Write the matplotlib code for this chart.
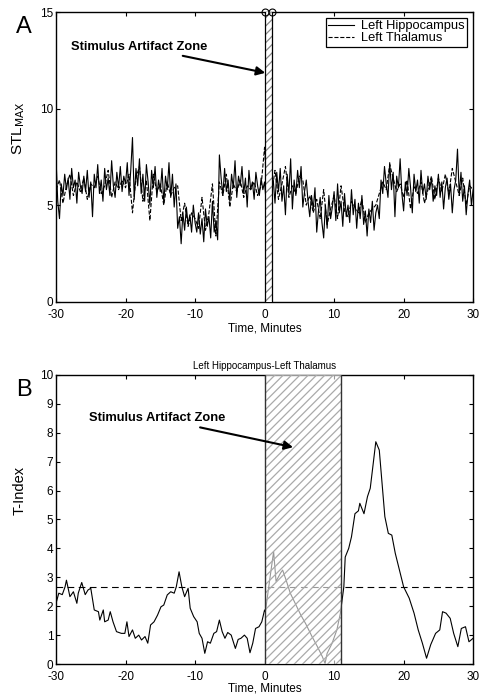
import numpy as np
import matplotlib.pyplot as plt

plt.rcParams['font.family'] = ['Liberation Sans', 'DejaVu Sans']
plt.rcParams['axes.unicode_minus'] = False
plt.rcParams['hatch.linewidth'] = 0.9

# panel A: STLmax, 0.25 min steps for hippocampus, 0.5 min for thalamus
t_hip = np.arange(-30, 30.01, 0.25)
stl_hip = [
    7.4, 5.2, 4.3, 6.1, 5.5, 6.6, 5.8, 6.4, 5.3, 6.9, 5.9, 6.3, 5.1, 6.7, 6.0, 5.6, 6.5, 5.7, 6.8, 5.4,
    6.2, 4.4, 6.6, 5.9, 7.1, 5.6, 6.3, 5.2, 6.9, 5.8, 6.4, 5.5, 7.3, 6.0, 5.4, 6.7, 5.9, 7.0, 5.7, 6.5,
    6.1, 7.2, 5.5, 6.8, 8.5, 5.3, 6.9, 6.0, 7.4, 5.6, 6.6, 5.2, 7.1, 6.2, 5.0, 6.8, 5.9, 7.0, 5.4, 6.3,
    5.7, 6.9, 5.1, 6.5, 5.8, 7.2, 5.4, 6.6, 4.9, 6.1, 3.8, 4.4, 3.0, 4.6, 3.7, 4.9, 4.0, 4.5, 3.6, 5.0,
    4.1, 3.6, 4.6, 3.5, 4.3, 3.1, 4.8, 3.9, 4.4, 3.3, 5.2, 3.6, 4.2, 3.2, 7.6, 6.4, 5.5, 6.9, 5.7, 6.3,
    5.2, 6.6, 5.9, 7.3, 5.4, 6.5, 6.0, 7.0, 5.6, 6.4, 4.9, 6.8, 5.8, 6.2, 5.3, 6.7, 6.0, 5.5, 6.4, 5.8,
    6.2, 5.0, 5.6, 4.2, 5.8, 6.3, 5.1, 6.7, 5.7, 6.9, 5.2, 6.0, 4.5, 6.6, 5.6, 7.4, 4.8, 6.3, 5.5, 6.8,
    5.9, 7.0, 4.9, 5.7, 6.3, 5.2, 4.4, 5.5, 4.8, 5.9, 3.6, 4.7, 5.4, 4.1, 3.3, 5.0, 3.8, 5.5, 4.3, 4.9,
    5.7, 4.2, 6.1, 4.6, 5.2, 3.9, 5.6, 4.4, 5.0, 4.1, 5.8, 4.5, 5.3, 3.8, 5.1, 4.3, 5.5, 4.0, 4.7, 3.4,
    4.8, 4.1, 5.2, 3.7, 4.6, 5.0, 4.3, 6.3, 5.6, 7.0, 6.1, 5.4, 7.2, 5.8, 6.7, 4.4, 6.5, 5.9, 7.4, 5.6,
    4.7, 6.2, 5.5, 6.9, 5.9, 4.6, 6.6, 5.7, 6.3, 5.1, 6.8, 5.6, 6.1, 5.3, 6.5, 5.8, 6.4, 5.2, 6.0, 5.5,
    6.6, 5.4, 6.2, 4.8, 5.9, 6.4, 5.3, 6.1, 4.6, 5.8, 6.3, 7.9, 5.5, 6.7, 5.2, 6.0, 4.5, 5.6, 6.3, 5.0, 5.8,
]
t_thal = np.arange(-30, 30.01, 0.5)
stl_thal = [
    5.8, 6.3, 5.1, 6.0, 6.6, 5.5, 6.2, 5.7, 6.4, 5.3, 6.1, 5.9, 6.5, 5.6, 6.0, 6.8, 5.4, 6.2, 5.8, 6.3,
    5.9, 6.6, 4.6, 6.4, 7.0, 5.2, 6.3, 4.2, 6.6, 5.7, 6.1, 5.0, 6.2, 5.5, 5.9, 6.0, 4.2, 5.1, 3.9, 4.6,
    4.3, 3.8, 5.4, 3.7, 4.6, 6.1, 3.4, 6.2, 5.5, 6.6, 4.9, 6.1, 5.7, 6.3, 5.4, 6.0, 5.8, 6.2, 5.5, 6.0,
    8.0, 4.5, 5.6, 6.8, 5.3, 6.1, 7.0, 5.4, 6.0, 5.6, 6.5, 6.3, 5.0, 5.5, 4.6, 5.3, 4.3, 5.8, 4.0, 4.8,
    5.5, 4.3, 6.0, 4.7, 4.4, 5.2, 4.9, 4.6, 5.3, 4.1, 4.6, 4.8, 5.0, 5.6, 6.2, 5.8, 7.1, 6.4, 5.7, 6.1,
    5.4, 6.3, 4.8, 6.0, 5.6, 6.2, 5.1, 5.8, 6.5, 5.3, 6.4, 5.7, 6.6, 5.6, 6.9, 6.2, 5.5, 6.4, 5.0, 6.0, 5.8,
]

# panel B: T-index
t_b = [-30.0, -29.6, -29.1, -28.7, -28.5, -28.0, -27.5, -27.0, -26.8, -26.3, -25.8, -25.4, -25.0,
       -24.5, -23.9, -23.7, -23.2, -23.0, -22.5, -22.2, -21.8, -21.3, -20.6, -20.1, -19.8, -19.5,
       -19.0, -18.6, -18.1, -17.7, -17.2, -16.8, -16.4, -15.9, -15.4, -14.9, -14.5, -14.0, -13.5,
       -13.0, -12.7, -12.3, -11.9, -11.5, -11.0, -10.7, -10.2, -9.7, -9.4, -9.0, -8.6, -8.2, -7.8,
       -7.3, -6.9, -6.5, -6.1, -5.7, -5.3, -4.8, -4.2, -3.8, -3.4, -2.9, -2.5, -2.1, -1.7, -1.3,
       -0.8, -0.4, 0.0, 0.12, 0.6, 1.3, 1.65, 2.3, 2.6, 3.1, 3.7, 4.4, 5.2, 5.9, 6.8, 7.6, 8.3,
       8.7, 9.0, 9.7, 10.4, 10.9, 11.4, 11.6, 12.1, 12.5, 13.0, 13.5, 13.7, 14.3, 14.8, 15.2, 15.6,
       16.0, 16.5, 16.9, 17.3, 17.8, 18.3, 18.8, 19.4, 20.0, 20.8, 21.5, 22.1, 22.7, 23.3, 23.9,
       24.6, 25.2, 25.6, 26.1, 26.7, 27.2, 27.8, 28.3, 28.9, 29.4, 30.0]
t_index = [2.1, 2.45, 2.4, 2.67, 2.9, 2.33, 2.5, 2.1, 2.45, 2.82, 2.4, 2.56, 2.62,
           1.87, 1.81, 1.52, 1.87, 1.46, 1.52, 1.81, 1.46, 1.12, 1.06, 1.06, 1.46, 0.95,
           1.18, 0.89, 1.0, 0.83, 0.95, 0.72, 1.35, 1.46, 1.69, 1.98, 2.04, 2.39, 2.5,
           2.45, 2.67, 3.19, 2.67, 2.33, 2.62, 1.93, 1.64, 1.46, 1.06, 0.89, 0.37, 0.77, 0.72,
           1.06, 1.12, 1.52, 1.12, 0.89, 1.09, 1.0, 0.54, 0.85, 0.89, 1.0, 0.89, 0.39, 0.72, 1.23,
           1.29, 1.46, 1.87, 1.81, 2.67, 3.89, 2.86, 3.15, 3.25, 2.9, 2.45, 2.1, 1.7, 1.4, 0.96, 0.6, 0.26,
           0.02, 0.37, 0.71, 1.18, 1.75, 2.67, 3.7, 4.0, 4.4, 5.2, 5.3, 5.56, 5.2, 5.79, 6.08, 6.88,
           7.69, 7.4, 6.25, 5.1, 4.52, 4.46, 3.83, 3.25, 2.67, 2.28, 1.76, 1.18, 0.72, 0.2, 0.67,
           1.06, 1.18, 1.81, 1.76, 1.58, 1.06, 0.6, 1.23, 1.29, 0.77, 0.89]
t_crit = 2.66

zone_a = (0, 1)
zone_b = (0, 11)
xticks = [-30, -20, -10, 0, 10, 20, 30]

fig = plt.figure(figsize=(4.8, 6.98), dpi=100)
axA = fig.add_axes([0.1167, 0.5678, 0.869, 0.415])
axB = fig.add_axes([0.1167, 0.0487, 0.869, 0.4141])

for ax in (axA, axB):
    ax.tick_params(direction='in', top=True, right=True, labelsize=8.5, length=3)
    ax.tick_params(axis='x', pad=5)
    ax.tick_params(axis='y', pad=2)
    ax.set_xlim(-30, 30)
    ax.set_xticks(xticks)
    for s in ax.spines.values():
        s.set_linewidth(1.0)

arrow = dict(arrowstyle='-|>', color='k', lw=1.5, mutation_scale=13, shrinkA=1, shrinkB=0)

# ---- A ----
axA.plot(t_hip, stl_hip, 'k-', lw=0.8, label='Left Hippocampus')
axA.plot(t_thal, stl_thal, 'k--', lw=0.8, label='Left Thalamus')
axA.axvspan(*zone_a, facecolor='white', edgecolor='#888888', hatch='////', lw=0, zorder=3)
axA.axvline(zone_a[0], color='k', lw=0.9, zorder=4)
axA.axvline(zone_a[1], color='k', lw=0.9, zorder=4)
axA.plot(zone_a, [15, 15], 'o', mfc='none', mec='k', ms=5, mew=0.8, clip_on=False, zorder=5)
axA.set_ylim(0, 15)
axA.set_yticks([0, 5, 10, 15])
axA.set_xlabel('Time, Minutes', fontsize=8.5, labelpad=1)
axA.set_ylabel('STL$_{\\mathrm{MAX}}$', fontsize=11)
axA.yaxis.set_label_coords(-0.07, 0.6)
axA.legend(loc='upper right', fontsize=9.3, frameon=True, fancybox=False, edgecolor='k',
           handlelength=2.0, handletextpad=0.55, borderpad=0.2, labelspacing=0.0,
           borderaxespad=0.45, framealpha=1).get_frame().set_linewidth(0.9)
axA.annotate('Stimulus Artifact Zone', xy=(0.1, 11.85), xytext=(-27.9, 13.2),
             fontsize=9.3, fontweight='bold', va='center', ha='left',
             arrowprops=arrow, zorder=6)
fig.text(0.033, 0.962, 'A', fontsize=17, va='center')

# ---- B ----
axB.plot(t_b, t_index, 'k-', lw=0.8)
axB.axhline(t_crit, color='k', ls=(0, (6, 4)), lw=0.8)
axB.axvspan(*zone_b, facecolor=(1, 1, 1, 0.6), edgecolor='#aaaaaa', hatch='////', lw=0, zorder=3)
axB.axvline(zone_b[0], color='#333333', lw=1.0, zorder=4)
axB.axvline(zone_b[1], color='#333333', lw=1.0, zorder=4)
axB.set_ylim(0, 10)
axB.set_yticks(range(0, 11))
axB.set_xlabel('Time, Minutes', fontsize=8.5, labelpad=0)
axB.set_ylabel('T-Index', fontsize=10.5)
axB.yaxis.set_label_coords(-0.07, 0.6)
axB.set_title('Left Hippocampus-Left Thalamus', fontsize=7, pad=4)
axB.annotate('Stimulus Artifact Zone', xy=(4.1, 7.5), xytext=(-25.2, 8.5),
             fontsize=9.3, fontweight='bold', va='center', ha='left',
             arrowprops=arrow, zorder=6)
fig.text(0.033, 0.441, 'B', fontsize=17, va='center')

fig.savefig('out.png', dpi=100)
